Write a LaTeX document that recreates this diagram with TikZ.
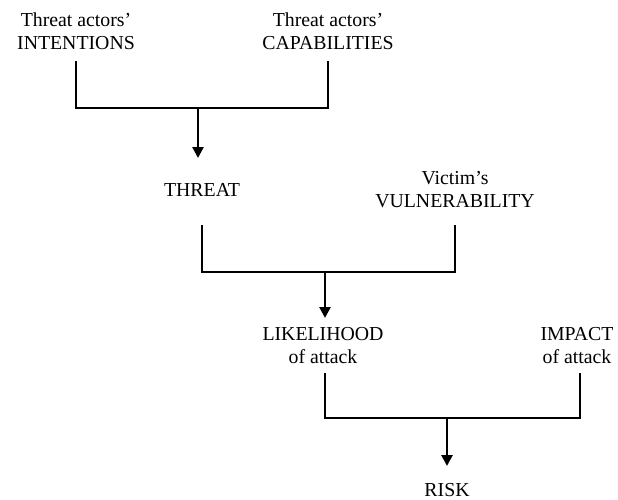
\documentclass[tikz,border=0pt]{standalone}
\usepackage{fontspec}
\setmainfont{Liberation Serif}
\usetikzlibrary{arrows.meta}
\begin{document}
\begin{tikzpicture}[x=1pt,y=-1pt,
  label/.style={inner sep=0pt,align=center,font=\fontsize{19.8}{23}\selectfont},
  link/.style={line width=2.6pt,line join=miter},
  arrow/.style={link,-{Triangle[width=11pt,length=11pt]}}]
\useasboundingbox (0,0) rectangle (618,500);

% factors
\node[label] (int) at (76,31) {Threat actors'\\INTENTIONS};
\node[label] (cap) at (328,31) {Threat actors'\\CAPABILITIES};
\node[label] (threat) at (202,190) {THREAT};
\node[label] (vul) at (455,190) {Victim's\\VULNERABILITY};
\node[label] (like) at (323,346) {LIKELIHOOD\\of attack};
\node[label] (imp) at (577,346) {IMPACT\\of attack};
\node[label] (risk) at (447,490) {RISK};

% rows of the connector brackets
\coordinate (top1) at (0,61);
\coordinate (j1) at (198,108);
\coordinate (tip1) at (198,158);
\coordinate (top2) at (0,225);
\coordinate (j2) at (325,272);
\coordinate (tip2) at (325,318);
\coordinate (top3) at (0,373);
\coordinate (j3) at (447,418);
\coordinate (tip3) at (447,466);
\coordinate (l3) at (325,373);
\coordinate (r3) at (580,373);

% intentions + capabilities -> threat
\draw[link] (int.south |- top1) |- (j1) -| (cap.south |- top1);
\draw[arrow] (j1) -- (tip1);

% threat + vulnerability -> likelihood
\draw[link] (threat.south |- top2) |- (j2) -| (vul.south |- top2);
\draw[arrow] (j2) -- (tip2);

% likelihood + impact -> risk
\draw[link] (l3) |- (j3) -| (r3);
\draw[arrow] (j3) -- (tip3);
\end{tikzpicture}
\end{document}
